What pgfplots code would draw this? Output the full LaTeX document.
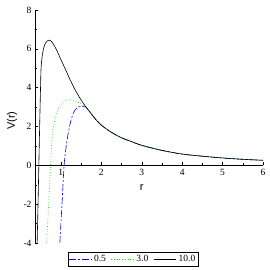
\documentclass[border=0pt]{standalone}
\usepackage{pgfplots}
\pgfplotsset{compat=1.18}
\usepackage{fontspec}
\setmainfont{Liberation Serif}
\setsansfont{Liberation Sans}
\definecolor{mblue}{rgb}{0,0,1}
\definecolor{mgreen}{rgb}{0,0.9,0}
\begin{document}
\begin{tikzpicture}
\useasboundingbox (-35pt,-27pt) rectangle (235pt,243pt);
\begin{axis}[
  scale only axis, width=228pt, height=233pt,
  xmin=0.36, xmax=6, ymin=-4, ymax=8,
  axis x line=middle, axis y line=left,
  axis line style={-, line width=0.5pt},
  xtick={1,2,3,4,5,6}, ytick={-4,-2,0,2,4,6,8},
  minor tick num=1,
  tick align=inside,
  major tick length=3pt, minor tick length=2pt,
  tick style={black, line width=0.4pt},
  /pgf/number format/assume math mode=true,
  tick label style={font=\fontsize{9.5}{10}\selectfont},
  clip mode=individual,
  legend columns=3,
  legend style={at={(0.43,-0.039)}, anchor=north, draw=black, line width=0.5pt,
    font=\fontsize{9.5}{10}\selectfont, inner sep=1pt,
    /tikz/every even column/.append style={column sep=3pt}},
  legend image code/.code={\draw[#1] (0cm,0cm) -- (0.8cm,0cm);},
]
\addplot[mblue, line width=0.6pt, dash pattern=on 7pt off 2pt on 2pt off 2pt, smooth] coordinates {
(0.975,-4) (1.03,-1.9) (1.08,0) (1.13,0.95) (1.18,1.63) (1.26,2.4) (1.35,2.85) (1.45,3.02) (1.53,3.04) (1.62,3.0) (1.72,2.74) (1.84,2.42) (2.0,2.07) (2.25,1.70) (2.5,1.42) (2.75,1.22) (3.0,1.03) (3.5,0.77) (4.0,0.58) (4.5,0.47) (5.0,0.38) (5.5,0.31) (6.0,0.26)};
\addlegendentry{0.5}
\addplot[mgreen, line width=0.7pt, dotted, smooth] coordinates {
(0.646,-4) (0.70,-1.9) (0.745,0) (0.77,1.0) (0.80,1.75) (0.87,2.5) (0.95,2.95) (1.05,3.25) (1.2,3.38) (1.35,3.32) (1.47,3.2) (1.59,3.05) (1.72,2.74) (1.84,2.42) (2.0,2.07) (2.25,1.70) (2.5,1.42) (2.75,1.22) (3.0,1.03) (3.5,0.77) (4.0,0.58) (4.5,0.47) (5.0,0.38) (5.5,0.31) (6.0,0.26)};
\addlegendentry{3.0}
\addplot[black, line width=0.6pt, smooth] coordinates {
(0.413,-4) (0.435,-2) (0.455,0) (0.475,2) (0.497,4) (0.51,5.0) (0.537,5.6) (0.57,6.0) (0.62,6.3) (0.70,6.45) (0.78,6.35) (0.88,6.0) (0.99,5.5) (1.12,4.91) (1.24,4.36) (1.35,3.9) (1.47,3.47) (1.59,3.09) (1.72,2.74) (1.84,2.42) (2.0,2.07) (2.25,1.70) (2.5,1.42) (2.75,1.22) (3.0,1.03) (3.5,0.77) (4.0,0.58) (4.5,0.47) (5.0,0.38) (5.5,0.31) (6.0,0.26)};
\addlegendentry{10.0}
\node[font=\sffamily\fontsize{11}{12}\selectfont] at (axis cs:3.0,-1.15) {r};
\node[font=\sffamily\fontsize{11}{12}\selectfont, rotate=90] at (axis cs:-0.21,2.3) {V(r)};
\end{axis}
\end{tikzpicture}
\end{document}
